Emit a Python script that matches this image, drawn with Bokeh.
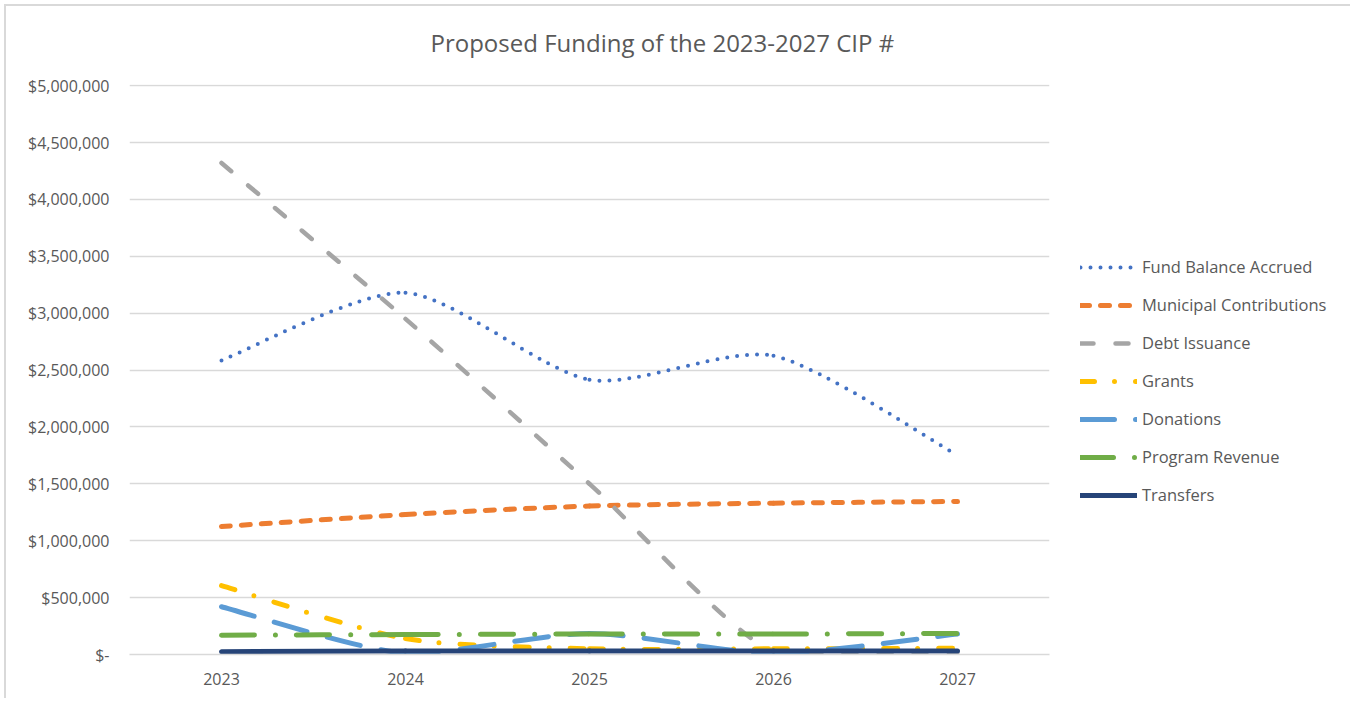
from bokeh.plotting import figure
from bokeh.models import Range1d, FixedTicker, Legend, LegendItem, ColumnDataSource, Title
from bokeh.embed import file_html
from bokeh.resources import INLINE

# ---------------- data ----------------
years = [2023, 2024, 2025, 2026, 2027]
fund_balance = [2585000, 3180000, 2415000, 2625000, 1750000]
municipal = [1125000, 1230000, 1305000, 1330000, 1345000]
debt = [4320000, 2950000, 1500000, 20000, 0]
grants = [605000, 140000, 50000, 50000, 55000]
donations = [420000, 10000, 185000, 10000, 180000]
program_revenue = [170000, 175000, 180000, 180000, 185000]
transfers = [25000, 30000, 30000, 30000, 30000]

series_names = ["Fund Balance Accrued", "Municipal Contributions", "Debt Issuance",
                "Grants", "Donations", "Program Revenue", "Transfers"]
y_ticks = [0, 500000, 1000000, 1500000, 2000000, 2500000, 3000000,
           3500000, 4000000, 4500000, 5000000]
y_tick_labels = ["$-", "$500,000", "$1,000,000", "$1,500,000", "$2,000,000",
                 "$2,500,000", "$3,000,000", "$3,500,000", "$4,000,000",
                 "$4,500,000", "$5,000,000"]
title_text = "Proposed Funding of the 2023-2027 CIP #"

# ---------------- styles ----------------
styles = [
    dict(color="#4472C4", width=4, dash="0 10"),
    dict(color="#ED7D31", width=5, dash="9 11"),
    dict(color="#A5A5A5", width=4.5, dash="13 22"),
    dict(color="#FFC000", width=5, dash="14 20 0 21"),
    dict(color="#5B9BD5", width=5, dash="34 21"),
    dict(color="#70AD47", width=5, dash="33 21 0 21"),
    dict(color="#264478", width=5, dash="solid"),
]
FONT = "Open Sans"
TXT = "#595959"
GRID = "#D9D9D9"
TENSION = 8.0


def smooth_segments(xs, ys):
    """Cubic Bezier segments (Excel-like smoothed line) through the points."""
    n = len(xs)
    d = dict(x0=[], y0=[], x1=[], y1=[], cx0=[], cy0=[], cx1=[], cy1=[])
    for i in range(n - 1):
        a = i - 1 if i > 0 else i
        b = i + 2 if i + 2 < n else i + 1
        d["x0"].append(xs[i]); d["y0"].append(ys[i])
        d["x1"].append(xs[i + 1]); d["y1"].append(ys[i + 1])
        d["cx0"].append(xs[i] + (xs[i + 1] - xs[a]) / TENSION)
        d["cy0"].append(max(0, ys[i] + (ys[i + 1] - ys[a]) / TENSION))
        d["cx1"].append(xs[i + 1] - (xs[b] - xs[i]) / TENSION)
        d["cy1"].append(max(0, ys[i + 1] - (ys[b] - ys[i]) / TENSION))
    return d


p = figure(frame_width=920, frame_height=570, output_backend="svg", toolbar_location=None,
           x_range=Range1d(2022.5, 2027.5), y_range=Range1d(0, 5010000),
           min_border_left=129, min_border_right=297, min_border_top=84,
           min_border_bottom=44, title=None)
p.outline_line_color = None
p.background_fill_color = "white"
p.border_fill_alpha = 0
p.styles = {
    "box-shadow": ("inset 4px 0 0 0 #FFFFFF, inset 0 4px 0 0 #FFFFFF, "
                   "inset -2px 0 0 0 #FFFFFF, "
                   "inset 6px 0 0 0 #D9D9D9, inset 0 6px 0 0 #D9D9D9, "
                   "inset -4px 0 0 0 #D9D9D9"),
    "background-color": "white",
}

# title
t = Title(text=title_text, align="left", offset=301, vertical_align="top",
          standoff=48, text_font=FONT, text_font_size="24px",
          text_font_style="normal", text_color=TXT)
p.add_layout(t, "above")

# axes
p.xaxis.ticker = FixedTicker(ticks=years)
p.xaxis.axis_line_color = GRID
p.xaxis.axis_line_width = 1.3
p.xaxis.major_tick_line_color = None
p.xaxis.minor_tick_line_color = None
p.xaxis.major_label_text_font = FONT
p.xaxis.major_label_text_font_size = "16px"
p.xaxis.major_label_text_color = TXT
p.xaxis.major_label_standoff = 12

p.yaxis.ticker = FixedTicker(ticks=y_ticks)
p.yaxis.major_label_overrides = {t_: l for t_, l in zip(y_ticks, y_tick_labels)}
p.yaxis.axis_line_color = None
p.yaxis.major_tick_line_color = None
p.yaxis.minor_tick_line_color = None
p.yaxis.major_label_text_font = FONT
p.yaxis.major_label_text_font_size = "16px"
p.yaxis.major_label_text_color = TXT
p.yaxis.major_label_standoff = 14

p.xgrid.grid_line_color = None
p.ygrid.grid_line_color = GRID
p.ygrid.grid_line_width = 1.3

all_series = [fund_balance, municipal, debt, grants, donations, program_revenue, transfers]
items = []
for name, vals, st in zip(series_names, all_series, styles):
    src = ColumnDataSource(smooth_segments(years, vals))
    r = p.bezier(x0="x0", y0="y0", x1="x1", y1="y1", cx0="cx0", cy0="cy0",
                 cx1="cx1", cy1="cy1", source=src, line_color=st["color"],
                 line_width=st["width"], line_dash=st["dash"], line_cap="round",
                 line_join="round")
    items.append(LegendItem(label=name, renderers=[r]))

legend = Legend(items=items, location=(31, 148), orientation="vertical")
legend.background_fill_alpha = 0
legend.border_line_color = None
legend.padding = 0
legend.margin = 0
legend.spacing = 15
legend.glyph_width = 57
legend.glyph_height = 22
legend.label_height = 22
legend.label_standoff = 5
legend.label_text_font = FONT
legend.label_text_font_size = "16.5px"
legend.label_text_color = TXT
p.add_layout(legend, "right")

open("out.html", "w").write(file_html(p, INLINE))
